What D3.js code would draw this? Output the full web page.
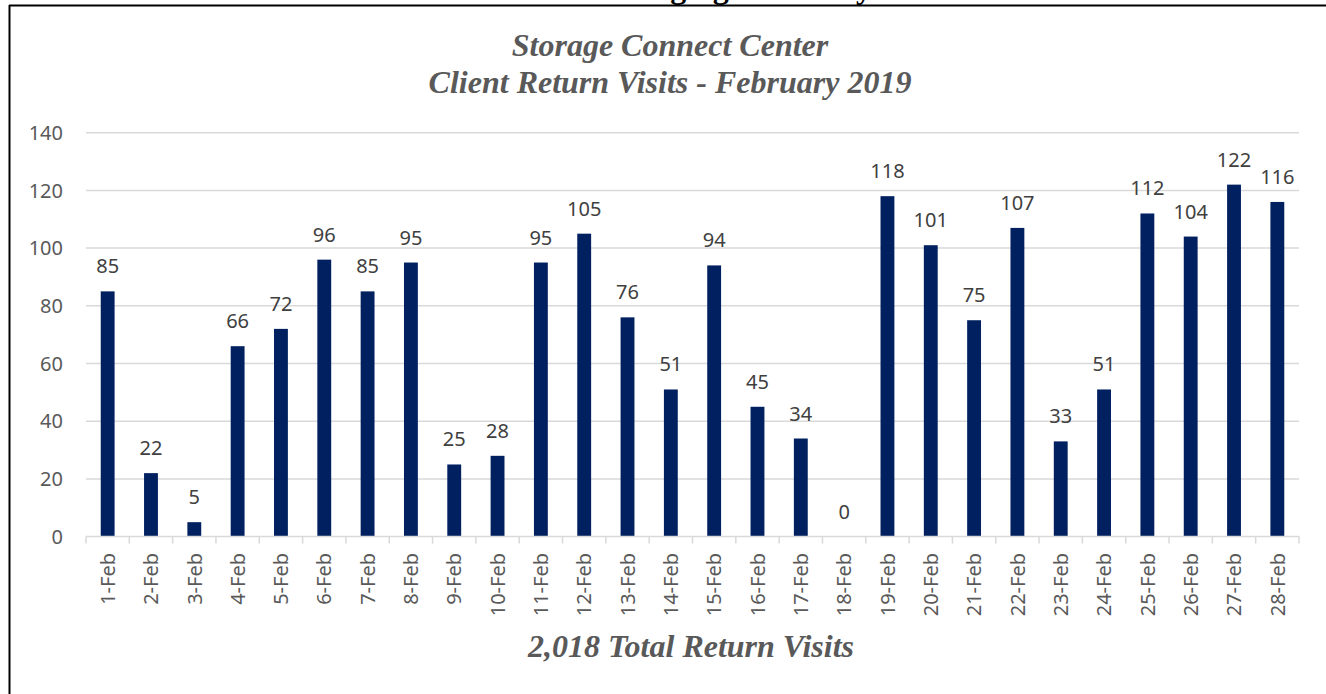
<!DOCTYPE html>
<html>
<head>
<meta charset="utf-8">
<script src="https://cdn.jsdelivr.net/npm/d3@7/dist/d3.min.js"></script>
<style>
    html, body { margin: 0; padding: 0; background: #fff; overflow: hidden; }
    svg { display: block; }
</style>
</head>
<body>
<svg></svg>
<script>
// DATA
const DAYS = ['1-Feb', '2-Feb', '3-Feb', '4-Feb', '5-Feb', '6-Feb', '7-Feb', '8-Feb', '9-Feb', '10-Feb',
    '11-Feb', '12-Feb', '13-Feb', '14-Feb', '15-Feb', '16-Feb', '17-Feb', '18-Feb', '19-Feb', '20-Feb',
    '21-Feb', '22-Feb', '23-Feb', '24-Feb', '25-Feb', '26-Feb', '27-Feb', '28-Feb'];
const VISITS = [85, 22, 5, 66, 72, 96, 85, 95, 25, 28,
    95, 105, 76, 51, 94, 45, 34, 0, 118, 101,
    75, 107, 33, 51, 112, 104, 122, 116];
const Y_TICKS = [0, 20, 40, 60, 80, 100, 120, 140];
const TITLE_LINES = ['Storage Connect Center', 'Client Return Visits - February 2019'];
const FOOTER = '2,018 Total Return Visits';
const CUT_HEADING = 'Lodging Summary';

// LAYOUT
const WIDTH = 1326, HEIGHT = 694;
const PLOT = { left: 86, right: 1299, top: 132.7, bottom: 536.6 };
const BAR_COLOR = '#002060';
const GRID_COLOR = '#d9d9d9';
const AXIS_TEXT = '#595959';
const LABEL_TEXT = '#404040';
const SANS = '"Noto Sans", "Open Sans", sans-serif';
const SERIF = '"Liberation Serif", "Times New Roman", serif';

const data = DAYS.map((day, i) => ({ day: day, value: VISITS[i] }));

const xScale = d3.scaleBand().domain(DAYS).range([PLOT.left, PLOT.right]).padding(0);
const yScale = d3.scaleLinear().domain([0, 140]).range([PLOT.bottom, PLOT.top]);
const BAR_WIDTH = xScale.bandwidth() * 0.32;

const svg = d3.select('svg')
    .attr('width', WIDTH)
    .attr('height', HEIGHT);

// frame (top + left edge of the pasted box), heading above it is cut off
svg.append('text')
    .text(CUT_HEADING)
    .attr('x', 615)
    .attr('y', -2)
    .style('font-family', SERIF)
    .style('font-weight', 'bold')
    .style('font-size', '32px')
    .style('fill', '#000');

svg.append('line')
    .attr('x1', 9).attr('x2', WIDTH)
    .attr('y1', 5.5).attr('y2', 5.5)
    .style('stroke', '#000')
    .style('stroke-width', 2);

svg.append('line')
    .attr('x1', 9.5).attr('x2', 9.5)
    .attr('y1', 5).attr('y2', HEIGHT)
    .style('stroke', '#000')
    .style('stroke-width', 2);

// titles
svg.append('g')
    .selectAll('text')
    .data(TITLE_LINES)
    .enter()
    .append('text')
    .text(d => d)
    .attr('x', 670)
    .attr('y', (d, i) => 55.5 + i * 37.5)
    .style('font-family', SERIF)
    .style('font-weight', 'bold')
    .style('font-style', 'italic')
    .style('font-size', '32px')
    .style('fill', AXIS_TEXT)
    .style('text-anchor', 'middle');

// gridlines
svg.append('g')
    .selectAll('line')
    .data(Y_TICKS.filter(t => t > 0))
    .enter()
    .append('line')
    .attr('x1', PLOT.left)
    .attr('x2', PLOT.right)
    .attr('y1', d => yScale(d))
    .attr('y2', d => yScale(d))
    .style('stroke', GRID_COLOR)
    .style('stroke-width', 1.5);

// y labels
svg.append('g')
    .selectAll('text')
    .data(Y_TICKS)
    .enter()
    .append('text')
    .text(d => d)
    .attr('x', 63)
    .attr('y', d => yScale(d))
    .attr('dy', '0.36em')
    .style('font-family', SANS)
    .style('font-size', '20px')
    .style('fill', AXIS_TEXT)
    .style('text-anchor', 'end');

// bars
svg.append('g')
    .selectAll('rect')
    .data(data)
    .enter()
    .append('rect')
    .attr('x', d => xScale(d.day) + (xScale.bandwidth() - BAR_WIDTH) / 2)
    .attr('y', d => yScale(d.value))
    .attr('width', BAR_WIDTH)
    .attr('height', d => yScale(0) - yScale(d.value))
    .style('fill', BAR_COLOR);

// data labels
svg.append('g')
    .selectAll('text')
    .data(data)
    .enter()
    .append('text')
    .text(d => d.value)
    .attr('x', d => xScale(d.day) + xScale.bandwidth() / 2)
    .attr('y', d => yScale(d.value) - 18)
    .style('font-family', SANS)
    .style('font-size', '20px')
    .style('fill', LABEL_TEXT)
    .style('text-anchor', 'middle');

// x axis line + ticks
const xAxis = svg.append('g');
xAxis.append('line')
    .attr('x1', PLOT.left)
    .attr('x2', PLOT.right)
    .attr('y1', yScale(0))
    .attr('y2', yScale(0))
    .style('stroke', GRID_COLOR)
    .style('stroke-width', 1.5);

xAxis.selectAll('.tick')
    .data(DAYS.map(d => xScale(d)).concat([PLOT.right]))
    .enter()
    .append('line')
    .classed('tick', true)
    .attr('x1', d => d)
    .attr('x2', d => d)
    .attr('y1', yScale(0))
    .attr('y2', yScale(0) + 7)
    .style('stroke', GRID_COLOR)
    .style('stroke-width', 1.5);

xAxis.selectAll('.day-label')
    .data(DAYS)
    .enter()
    .append('text')
    .classed('day-label', true)
    .text(d => d)
    .attr('transform', d => `translate(${xScale(d) + xScale.bandwidth() / 2}, 553) rotate(-90)`)
    .attr('dy', '0.36em')
    .style('font-family', SANS)
    .style('font-size', '20px')
    .style('fill', AXIS_TEXT)
    .style('text-anchor', 'end');

// footer
svg.append('text')
    .text(FOOTER)
    .attr('x', 691)
    .attr('y', 657)
    .style('font-family', SERIF)
    .style('font-weight', 'bold')
    .style('font-style', 'italic')
    .style('font-size', '32px')
    .style('fill', AXIS_TEXT)
    .style('text-anchor', 'middle');
</script>
</body>
</html>
